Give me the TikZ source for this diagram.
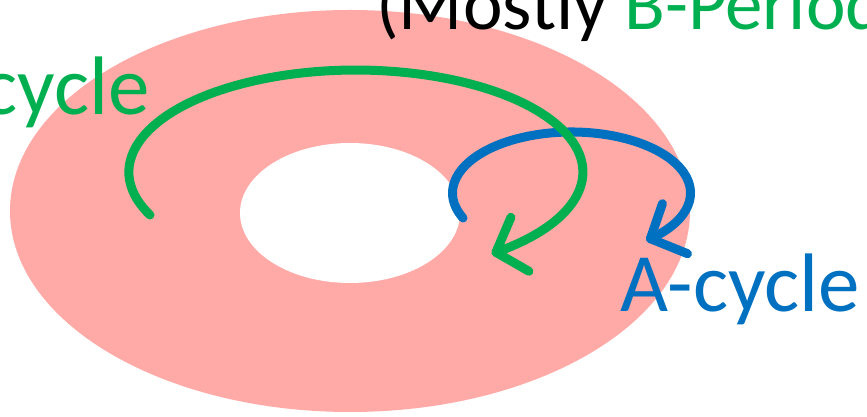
\documentclass[tikz,border=0pt]{standalone}
\usepackage{fontspec}
\setmainfont{Carlito}
\usetikzlibrary{calc}
\definecolor{ringpink}{RGB}{255,170,167}
\definecolor{bgreen}{RGB}{0,176,80}
\definecolor{ablue}{RGB}{0,112,192}
\begin{document}
\begin{tikzpicture}[x=1pt,y=1pt,
  cycleline/.style={line width=9pt, line cap=round, line join=round},
  biglabel/.style={inner sep=0pt, font=\fontsize{83}{99}\selectfont},
  titlelabel/.style={inner sep=0pt, font=\fontsize{75}{90}\selectfont}]
\useasboundingbox (0,0) rectangle (867,417);
\clip (0,0) rectangle (867,417);
% the torus seen from above: a pink annulus
\fill[ringpink] (350,206) ellipse[x radius=340, y radius=201];
\fill[white] (350,204) ellipse[x radius=110, y radius=70];
% labels
\node[titlelabel, anchor=base west] (title) at (376,387) {(Mostly \textcolor{bgreen}{B-Period}};
\node[biglabel, anchor=base east, text=bgreen] (bcycle) at (150,302) {cycle};
\node[biglabel, anchor=base west, text=ablue] (acycle) at (620,105) {A-cycle};
% A-cycle: loop around the tube
\draw[cycleline, ablue] (463,199) arc[start angle=204.2, end angle=-48.5, x radius=119, y radius=61] coordinate (atip);
\draw[cycleline, ablue] ($(atip)+(71:37)$) -- (atip) -- ($(atip)+(-22:40)$);
% B-cycle: loop around the hole
\draw[cycleline, bgreen] (150,202) arc[start angle=204.9, end angle=-51.9, x radius=227, y radius=102] coordinate (gtip);
\draw[cycleline, bgreen] ($(gtip)+(66.8:38)$) -- (gtip) -- ($(gtip)+(-29.9:38)$);
\end{tikzpicture}
\end{document}
